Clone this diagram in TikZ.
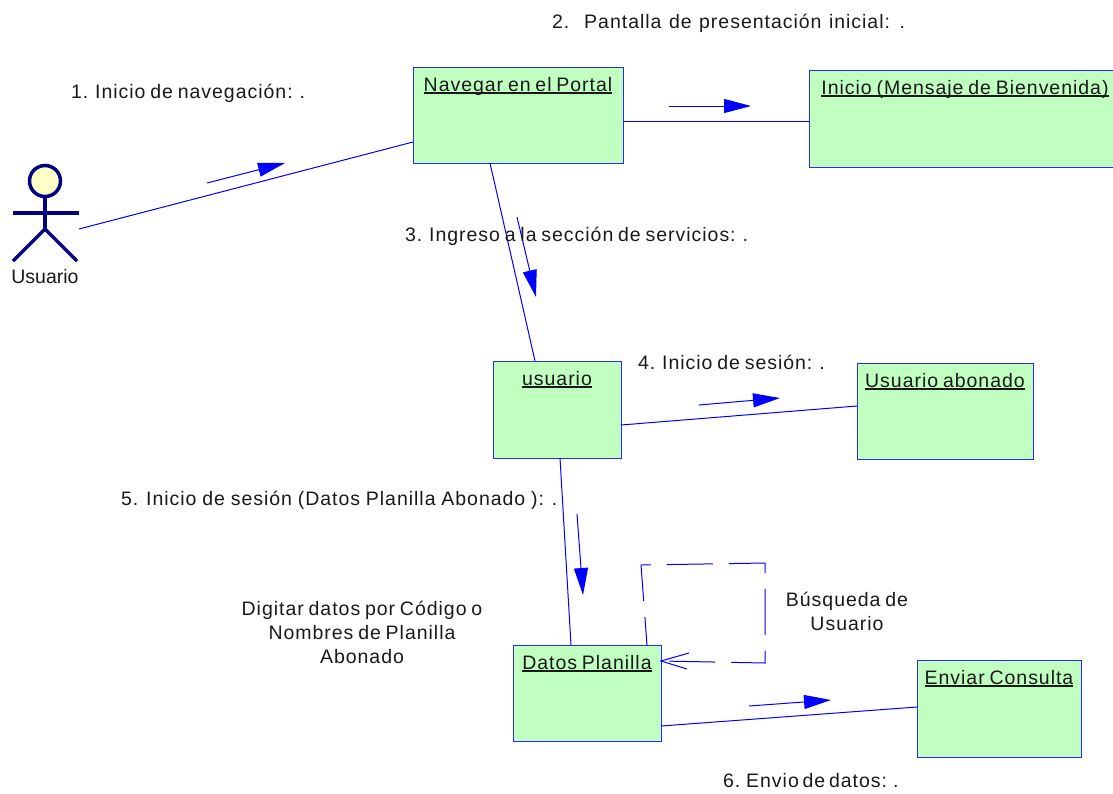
\documentclass[tikz,border=0pt]{standalone}
\usepackage{fontspec}
\setmainfont[LetterSpace=5,WordSpace=0.75]{Liberation Sans}
\newfontfamily\plainfont{Liberation Sans}
\usetikzlibrary{arrows.meta,calc}
\definecolor{boxfill}{HTML}{C0FFC0}
\definecolor{boxline}{HTML}{2A2AF0}
\definecolor{actorfill}{HTML}{FFFFC8}
\definecolor{actorline}{HTML}{000080}
\newcommand{\boxtitle}[1]{\setbox0\hbox{#1}\rlap{#1}\rule[-3.4pt]{\wd0}{2pt}}
\tikzset{
  x=1pt,y=-1pt,
  every node/.style={font=\fontsize{19.5}{24}\selectfont,text=black!90,inner sep=0pt,outer sep=0pt},
  objbox/.style={draw=boxline,fill=boxfill,line width=1pt,anchor=north west},
  objtitle/.style={label={[anchor=base,yshift=-24pt]north:\boxtitle{#1}}},
  link/.style={draw=blue,line width=1pt},
  selflink/.style={draw=blue,line width=1pt,dash pattern=on 46pt off 16pt,dash phase=18pt},
  msg/.style={draw=blue,line width=1pt,-{Triangle[length=27pt,width=14pt]}},
  openhead/.style={draw=blue,line width=1pt},
  actorstroke/.style={draw=actorline,line width=3.5pt},
  txt/.style={anchor=west},
  mtxt/.style={align=center,anchor=center}
}
\begin{document}
\begin{tikzpicture}
\useasboundingbox (0,0) rectangle (1113,793);
% objects
\node[objbox,minimum width=312pt,minimum height=97pt,objtitle={Inicio (Mensaje de Bienvenida)}] (ini) at (809,70) {};
\node[objbox,minimum width=210pt,minimum height=96pt,objtitle={Navegar en el Portal}] (nav) at (413,67) {};
\node[objbox,minimum width=128pt,minimum height=97pt,objtitle={usuario}] (usu) at (493,361) {};
\node[objbox,minimum width=176pt,minimum height=96pt,objtitle={Usuario abonado}] (abo) at (857,363) {};
\node[objbox,minimum width=148pt,minimum height=96pt,objtitle={Datos Planilla}] (dat) at (513,645) {};
\node[objbox,minimum width=164pt,minimum height=97pt,objtitle={Enviar Consulta}] (env) at (917,660) {};
% actor
\node[circle,draw=actorline,fill=actorfill,line width=3.5pt,minimum size=31pt] (head) at (45,181) {};
\coordinate (hip) at (45,229);
\coordinate (shl) at (13,213);
\coordinate (shr) at (79,213);
\coordinate (footl) at (13,261);
\coordinate (footr) at (77,261);
\coordinate (actorend) at (79,229);
\draw[actorstroke] (head.south) -- (hip);
\draw[actorstroke] (shl) -- (shr);
\draw[actorstroke] (footl) -- (hip) -- (footr);
\node[font=\plainfont\fontsize{19.5}{24}\selectfont] (actlabel) at (45,277) {Usuario};
% links
\draw[link] (actorend) -- ([yshift=-27pt]nav.west);
\draw[link] ([yshift=-6pt]nav.east) -- ([yshift=-2.5pt]ini.west);
\draw[link] ([xshift=-28pt]nav.south) -- ([xshift=-22pt]usu.north);
\draw[link] ([yshift=-15.5pt]usu.east) -- ([yshift=5pt]abo.west);
\draw[link] ([xshift=3pt]usu.south) -- ([xshift=-16pt]dat.north);
\draw[link] ([yshift=-33pt]dat.east) -- ([yshift=1.5pt]env.west);
% self link
\coordinate (sa) at (641,565);
\coordinate (sb) at (765,563);
\coordinate (sc) at (765,663);
\draw[selflink] ([xshift=60pt]dat.north) -- (sa) -- (sb) -- (sc) -- ([yshift=32pt]dat.east);
\coordinate (ha) at (689,653);
\coordinate (hb) at (687,669);
\draw[openhead] (ha) -- ([yshift=32pt]dat.east) -- (hb);
% message arrows
\coordinate (m1a) at (207,183); \coordinate (m1b) at (285,163);
\coordinate (m2a) at (669,106); \coordinate (m2b) at (751,106);
\coordinate (m3a) at (517,217); \coordinate (m3b) at (536,297);
\coordinate (m4a) at (699,405); \coordinate (m4b) at (780,398);
\coordinate (m5a) at (577,514); \coordinate (m5b) at (583,595);
\coordinate (m6a) at (749,706); \coordinate (m6b) at (831,700);
\draw[msg] (m1a) -- (m1b);
\draw[msg] (m2a) -- (m2b);
\draw[msg] (m3a) -- (m3b);
\draw[msg] (m4a) -- (m4b);
\draw[msg] (m5a) -- (m5b);
\draw[msg] (m6a) -- (m6b);
% labels
\node[txt] (l1) at (71,93.5) {1. Inicio de navegación: .};
\node[txt] (l2) at (552,23.5) {\spaceskip=7.5pt 2.\ \ Pantalla de presentación inicial: .};
\node[txt] (l3) at (405,236) {3. Ingreso a la sección de servicios: .};
\node[txt] (l4) at (638,362) {4. Inicio de sesión: .};
\node[txt] (l5) at (121,500) {\spaceskip=5.8pt 5. Inicio de sesión (Datos Planilla Abonado ): .};
\node[txt] (l6) at (723,781) {\spaceskip=3.8pt 6. Envio de datos: .};
\node[mtxt] (l7) at (362,632) {Digitar datos por Código o\\Nombres de Planilla\\Abonado};
\node[mtxt] (l8) at (847,611) {Búsqueda de\\Usuario};
\end{tikzpicture}
\end{document}
